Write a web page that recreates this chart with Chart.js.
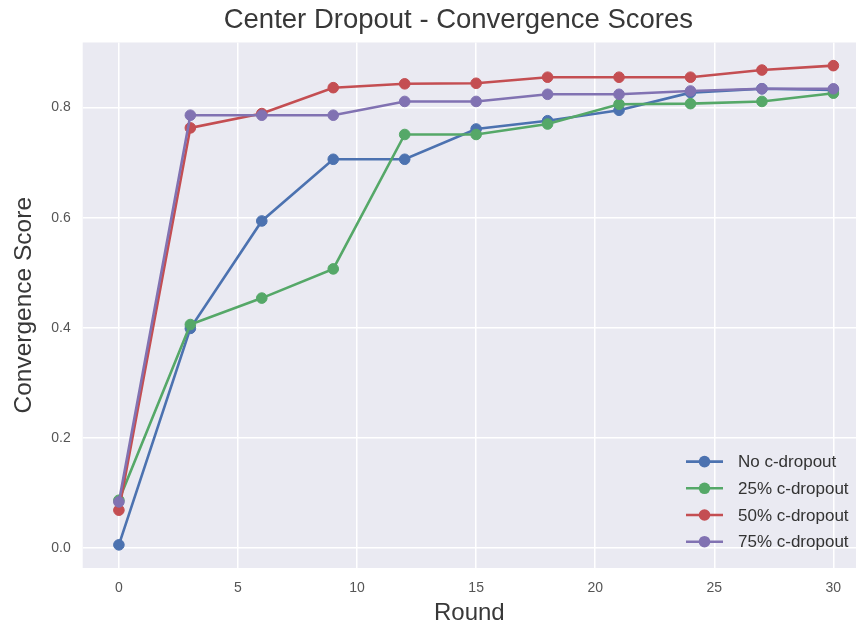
<!DOCTYPE html>
<html>
<head>
<meta charset="utf-8">
<script src="https://cdn.jsdelivr.net/npm/chart.js@4.4.1/dist/chart.umd.min.js"></script>
<style>
  html, body { margin: 0; padding: 0; background: #fff; }
  #wrap { width: 856px; height: 625px; }
</style>
</head>
<body>
<div id="wrap"><canvas id="myChart" width="856" height="625"></canvas></div>
<script>
// data
var rounds = [0, 3, 6, 9, 12, 15, 18, 21, 24, 27, 30];
var noDropout = [0.006, 0.399, 0.594, 0.706, 0.706, 0.761, 0.776, 0.795, 0.827, 0.834, 0.832];
var dropout25 = [0.087, 0.406, 0.454, 0.507, 0.751, 0.751, 0.770, 0.806, 0.807, 0.811, 0.826];
var dropout50 = [0.069, 0.763, 0.789, 0.836, 0.843, 0.844, 0.855, 0.855, 0.855, 0.868, 0.876];
var dropout75 = [0.084, 0.786, 0.786, 0.786, 0.811, 0.811, 0.824, 0.824, 0.830, 0.834, 0.834];
var seriesLabels = ['No c-dropout', '25% c-dropout', '50% c-dropout', '75% c-dropout'];
var xTicks = [0, 5, 10, 15, 20, 25, 30];
var yTicks = [0, 0.2, 0.4, 0.6, 0.8];

var colors = ['#4C72B0', '#55A868', '#C44E52', '#8172B2'];
var allSeries = [noDropout, dropout25, dropout50, dropout75];

function toPoints(values) {
  return rounds.map(function (r, i) { return { x: r, y: values[i] }; });
}

var datasets = allSeries.map(function (vals, i) {
  return {
    label: seriesLabels[i],
    data: toPoints(vals),
    borderColor: colors[i],
    backgroundColor: colors[i],
    pointBackgroundColor: colors[i],
    pointBorderColor: colors[i],
    borderWidth: 2.6,
    pointRadius: 5.3,
    pointBorderWidth: 1,
    tension: 0,
    order: 4 - i   // last series painted on top, like matplotlib
  };
});

// grey plot background
var plotBg = {
  id: 'plotBg',
  afterLayout: function (chart) {
    // matplotlib centres the title a little left of the axes centre here
    if (chart.titleBlock) {
      chart.titleBlock.left -= 11;
      chart.titleBlock.right -= 11;
    }
  },
  beforeDraw: function (chart) {
    var a = chart.chartArea, c = chart.ctx;
    c.save();
    c.fillStyle = '#EAEAF2';
    c.fillRect(a.left, a.top, a.right - a.left, a.bottom - a.top);
    c.restore();
  }
};

// matplotlib-like legend: line with marker, no frame
var lineLegend = {
  id: 'lineLegend',
  afterDraw: function (chart) {
    var a = chart.chartArea, c = chart.ctx;
    var n = chart.data.datasets.length;
    var textX = a.right - 118;
    c.save();
    c.font = '17px "Liberation Sans", Arial, sans-serif';
    c.textBaseline = 'middle';
    c.textAlign = 'left';
    chart.data.datasets.forEach(function (ds, i) {
      var y = a.bottom - 26.3 - (n - 1 - i) * 26.7;
      c.strokeStyle = ds.borderColor;
      c.lineWidth = 2.6;
      c.beginPath();
      c.moveTo(textX - 52, y);
      c.lineTo(textX - 15, y);
      c.stroke();
      c.fillStyle = ds.borderColor;
      c.beginPath();
      c.arc(textX - 33.5, y, 5.8, 0, Math.PI * 2);
      c.fill();
      c.fillStyle = '#333';
      c.fillText(ds.label, textX, y + 1);
    });
    c.restore();
  }
};

var chartContext = document.getElementById('myChart').getContext('2d');
var myChart = new Chart(chartContext, {
  type: 'line',
  data: { datasets: datasets },
  plugins: [plotBg, lineLegend],
  options: {
    responsive: false,
    animation: false,
    layout: { padding: 0, autoPadding: false },
    plugins: {
      legend: { display: false },
      tooltip: { enabled: false },
      title: {
        display: true,
        fullSize: false,
        text: 'Center Dropout - Convergence Scores',
        color: '#383838',
        font: { family: '"Liberation Sans", Arial, sans-serif', size: 27.5, weight: 'normal', lineHeight: 1.2 },
        padding: { top: 4, bottom: 5.5 }
      }
    },
    scales: {
      x: {
        type: 'linear',
        min: -1.52,
        max: 30.95,
        afterBuildTicks: function (scale) {
          scale.ticks = xTicks.map(function (v) { return { value: v }; });
        },
        afterFit: function (scale) {
          scale.height = 57;
          scale.paddingLeft = 0;
          scale.paddingRight = 0;
        },
        grid: { color: '#ffffff', lineWidth: 1.5, drawTicks: false },
        border: { display: false },
        ticks: {
          padding: 12,
          color: '#555',
          font: { family: '"Liberation Sans", Arial, sans-serif', size: 14 }
        },
        title: {
          display: true,
          text: 'Round',
          color: '#383838',
          font: { family: '"Liberation Sans", Arial, sans-serif', size: 24, lineHeight: 1 },
          padding: { top: 0, bottom: 0 }
        }
      },
      y: {
        min: -0.036,
        max: 0.918,
        afterBuildTicks: function (scale) {
          scale.ticks = yTicks.map(function (v) { return { value: v }; });
        },
        afterFit: function (scale) {
          scale.width = 82.7;
          scale.paddingTop = 0;
          scale.paddingBottom = 0;
        },
        grid: { color: '#ffffff', lineWidth: 1.5, drawTicks: false },
        border: { display: false },
        ticks: {
          padding: 12,
          color: '#555',
          font: { family: '"Liberation Sans", Arial, sans-serif', size: 14 },
          callback: function (v) { return v.toFixed(1); }
        },
        title: {
          display: true,
          text: 'Convergence Score',
          color: '#383838',
          font: { family: '"Liberation Sans", Arial, sans-serif', size: 24.5, lineHeight: 1 },
          padding: { top: 12, bottom: 0 }
        }
      }
    }
  }
});
</script>
</body>
</html>
